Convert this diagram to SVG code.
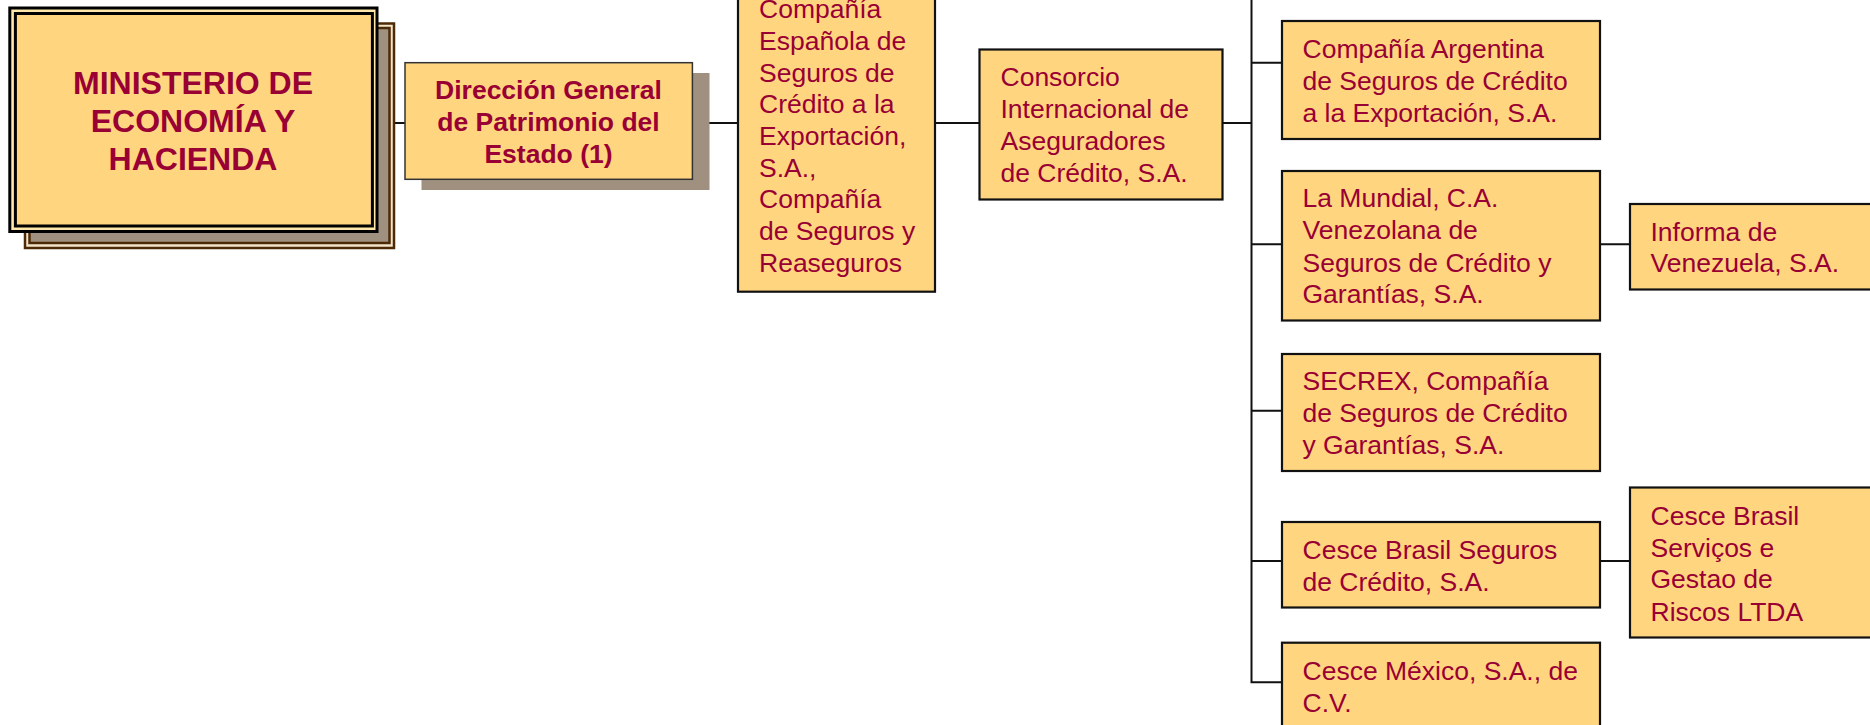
<svg xmlns="http://www.w3.org/2000/svg" width="1870" height="725" viewBox="0 0 1870 725">
<style>
.box{fill:#FFD580;stroke:#111;stroke-width:2.2}
.t{font-family:"Liberation Sans",Arial,sans-serif;font-size:26.5px;fill:#990033}
.tb{font-family:"Liberation Sans",Arial,sans-serif;font-weight:bold;fill:#990033;text-anchor:middle}
.c{stroke:#111;stroke-width:2;fill:none}
</style>
<rect width="1870" height="725" fill="#fff"/>
<g id="connectors">
<path class="c" d="M379 123H405M692 123H738M935 123H979.5M1222.5 123H1251.5M1251.5 -5V682.3H1282M1251.5 62.7H1282M1251.5 244.3H1282M1251.5 410.7H1282M1251.5 561H1282M1600 244.3H1630M1600 561H1630"/>
</g>
<g id="ministerio">
<rect x="25" y="23.5" width="369" height="224.5" fill="#f3e4cc" stroke="#4d2a05" stroke-width="2.5"/>
<rect x="29.5" y="28" width="360" height="215" fill="#a09080" stroke="#4d2a05" stroke-width="2.5"/>
<rect x="9.8" y="8" width="367.2" height="223.5" fill="#FFE7AA" stroke="#000" stroke-width="3"/>
<rect x="15.4" y="13.5" width="357" height="212.5" fill="#FFD580" stroke="#000" stroke-width="3"/>
<text class="tb" font-size="32" x="193"><tspan x="193" y="94">MINISTERIO DE</tspan><tspan x="193" y="131.7">ECONOMÍA Y</tspan><tspan x="193" y="170">HACIENDA</tspan></text>
</g>
<g id="direccion">
<rect x="421.5" y="73" width="288" height="117" fill="#a09080"/>
<rect x="405" y="62.7" width="287.4" height="116.6" fill="#FFD580" stroke="#333" stroke-width="1.5"/>
<text class="tb" font-size="26.5"><tspan x="548.5" y="99">Dirección General</tspan><tspan x="548.5" y="130.7">de Patrimonio del</tspan><tspan x="548.5" y="162.7">Estado (1)</tspan></text>
</g>
<g id="cesce">
<rect class="box" x="738" y="-20" width="197" height="311.7"/>
<text class="t"><tspan x="759" y="18.3">Compañía</tspan><tspan x="759" y="50">Española de</tspan><tspan x="759" y="81.7">Seguros de</tspan><tspan x="759" y="113.3">Crédito a la</tspan><tspan x="759" y="145">Exportación,</tspan><tspan x="759" y="176.7">S.A.,</tspan><tspan x="759" y="208.3">Compañía</tspan><tspan x="759" y="240">de Seguros y</tspan><tspan x="759" y="271.7">Reaseguros</tspan></text>
</g>
<g id="consorcio">
<rect class="box" x="979.5" y="49.5" width="243" height="150"/>
<text class="t"><tspan x="1000.5" y="86">Consorcio</tspan><tspan x="1000.5" y="118.3">Internacional de</tspan><tspan x="1000.5" y="150">Aseguradores</tspan><tspan x="1000.5" y="181.7">de Crédito, S.A.</tspan></text>
</g>
<g id="argentina">
<rect class="box" x="1282" y="21" width="318" height="118"/>
<text class="t"><tspan x="1302.5" y="57.7">Compañía Argentina</tspan><tspan x="1302.5" y="90">de Seguros de Crédito</tspan><tspan x="1302.5" y="122">a la Exportación, S.A.</tspan></text>
</g>
<g id="mundial">
<rect class="box" x="1282" y="171" width="318" height="149.5"/>
<text class="t"><tspan x="1302.5" y="207.3">La Mundial, C.A.</tspan><tspan x="1302.5" y="239.3">Venezolana de</tspan><tspan x="1302.5" y="271.7">Seguros de Crédito y</tspan><tspan x="1302.5" y="303.3">Garantías, S.A.</tspan></text>
</g>
<g id="informa">
<rect class="box" x="1630" y="204" width="260" height="85.5"/>
<text class="t"><tspan x="1650.5" y="240.7">Informa de</tspan><tspan x="1650.5" y="272.3">Venezuela, S.A.</tspan></text>
</g>
<g id="secrex">
<rect class="box" x="1282" y="354" width="318" height="117"/>
<text class="t"><tspan x="1302.5" y="390">SECREX, Compañía</tspan><tspan x="1302.5" y="421.7">de Seguros de Crédito</tspan><tspan x="1302.5" y="454">y Garantías, S.A.</tspan></text>
</g>
<g id="brasil">
<rect class="box" x="1282" y="522" width="318" height="85.5"/>
<text class="t"><tspan x="1302.5" y="559.3">Cesce Brasil Seguros</tspan><tspan x="1302.5" y="591">de Crédito, S.A.</tspan></text>
</g>
<g id="servicos">
<rect class="box" x="1630" y="487.5" width="260" height="150"/>
<text class="t"><tspan x="1650.5" y="525">Cesce Brasil</tspan><tspan x="1650.5" y="556.7">Serviços e</tspan><tspan x="1650.5" y="588.3">Gestao de</tspan><tspan x="1650.5" y="620.7">Riscos LTDA</tspan></text>
</g>
<g id="mexico">
<rect class="box" x="1282" y="642.7" width="318" height="120"/>
<text class="t"><tspan x="1302.5" y="680">Cesce México, S.A., de</tspan><tspan x="1302.5" y="711.7">C.V.</tspan></text>
</g>
</svg>
